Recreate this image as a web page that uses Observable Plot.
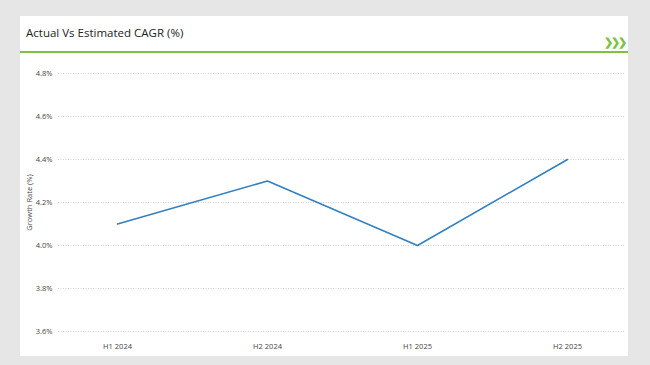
<!DOCTYPE html>
<html>
<head>
<meta charset="utf-8">
<script src="https://cdn.jsdelivr.net/npm/d3@7"></script>
<script src="https://cdn.jsdelivr.net/npm/@observablehq/plot@0.6"></script>
<style>
  html, body { margin: 0; padding: 0; }
  body { width: 650px; height: 365px; background: #e6e6e6; position: relative; overflow: hidden; font-family: "Open Sans", "Noto Sans", sans-serif; }
  #card { position: absolute; left: 20px; top: 16px; width: 608px; height: 340px; background: #fff; }
  #title { position: absolute; left: 6px; top: 9px; font-size: 11.5px; color: #222; }
  #chev { position: absolute; right: 3px; top: 18px; font-size: 11px; font-weight: 900; color: #7dc242; letter-spacing: -2px; }
  #rule { position: absolute; left: 0; top: 35px; width: 608px; height: 2px; background: #7dc242; }
  #chart { position: absolute; left: 0; top: 40px; }
</style>
</head>
<body>
<div id="card">
  <div id="title">Actual Vs Estimated CAGR (%)</div>
  <div id="chev">&#x276F;&#x276F;&#x276F;</div>
  <div id="rule"></div>
  <div id="chart"></div>
</div>
<script>
const periods = ["H1 2024", "H2 2024", "H1 2025", "H2 2025"];
const growth = [4.1, 4.3, 4.0, 4.4];
const yTicks = [3.6, 3.8, 4.0, 4.2, 4.4, 4.6, 4.8];
const yLabel = "Growth Rate (%)";

const data = periods.map((p, i) => ({period: p, value: growth[i]}));

const chart = Plot.plot({
  width: 608,
  height: 300,
  marginTop: 17,
  marginBottom: 25,
  marginLeft: 38,
  marginRight: 3,
  style: { fontFamily: "'Open Sans', 'Noto Sans', sans-serif", fontSize: "7.5px", color: "#444", background: "transparent" },
  x: { type: "point", domain: periods, padding: 0.39, label: null },
  y: { domain: [3.6, 4.8], label: null },
  marks: [
    Plot.gridY(yTicks, { stroke: "#d4d4d4", strokeOpacity: 1, strokeDasharray: "1,1.5" }),
    Plot.axisY(yTicks, { tickSize: 0, tickPadding: 6, tickFormat: d => d.toFixed(1) + "%", label: yLabel, labelAnchor: "center", labelArrow: "none", labelOffset: 32 }),
    Plot.axisX({ tickSize: 0, tickPadding: 12, label: null }),
    Plot.line(data, { x: "period", y: "value", stroke: "#2f7fc1", strokeWidth: 1.5 })
  ]
});
document.getElementById("chart").appendChild(chart);
</script>
</body>
</html>
